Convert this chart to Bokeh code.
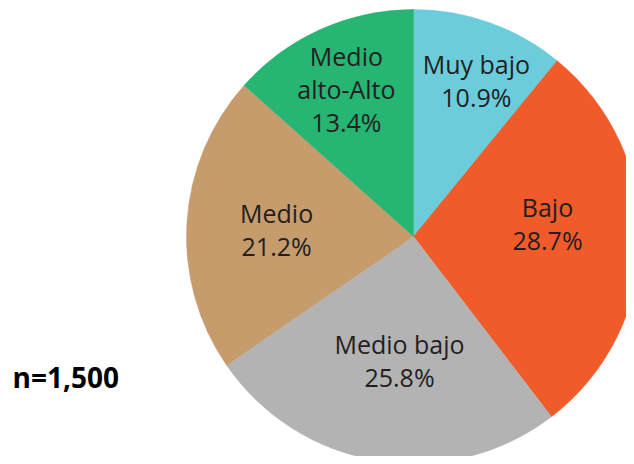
import math
from bokeh.plotting import figure
from bokeh.models import ColumnDataSource, Range1d
from bokeh.core.properties import value
from bokeh.embed import file_html
from bokeh.resources import INLINE

categories = ["Muy bajo", "Bajo", "Medio bajo", "Medio", "Medio alto-Alto"]
shares = [10.9, 28.7, 25.8, 21.2, 13.4]
label_lines = [["Muy bajo", "10.9%"], ["Bajo", "28.7%"], ["Medio bajo", "25.8%"],
               ["Medio", "21.2%"], ["Medio", "alto-Alto", "13.4%"]]
colors = ["#6BCCDC", "#F15A29", "#B3B3B3", "#C69C6D", "#26B573"]
sample_note = "n=1,500"

# layout (pixel-like data units)
W, H = 626, 456
cx, cy, R = 413, 220, 227
label_r = [167, 134.5, 125.6, 137, 161]
label_dang = [-2.5, 5.9, 2.6, 1.1, 0.5]   # degrees nudge from wedge mid-angle
line_gap = 33.4
font_px = 25
cap = 0.714 * font_px
baseline_fix = -10  # screen px correction for alphabetic baseline rendering

total = sum(shares)
starts, ends, mids = [], [], []
acc = 0.0
for s in shares:
    a0 = math.pi / 2 - 2 * math.pi * acc / total
    acc += s
    a1 = math.pi / 2 - 2 * math.pi * acc / total
    starts.append(a0); ends.append(a1); mids.append((a0 + a1) / 2)

src = ColumnDataSource(dict(start=starts, end=ends, color=colors, cat=categories))

p = figure(width=W, height=H, output_backend="svg", toolbar_location=None,
           x_range=Range1d(0, W), y_range=Range1d(0, H), min_border=0,
           outline_line_color=None)
p.axis.visible = False
p.grid.visible = False
p.background_fill_color = "white"
p.border_fill_color = "white"

p.wedge(x=cx, y=cy, radius=R, start_angle="start", end_angle="end", direction="clock",
        fill_color="color", line_color="color", line_width=0.5, source=src)

tx, ty, tt, toff = [], [], [], []
for lines, m, r, da in zip(label_lines, mids, label_r, label_dang):
    a = m + math.radians(da)
    lx = cx + r * math.cos(a)
    ly = cy + r * math.sin(a)
    n = len(lines)
    blockh = (n - 1) * line_gap + cap
    for i, t in enumerate(lines):
        tx.append(lx); ty.append(ly); tt.append(t)
        toff.append(-blockh / 2 + cap + i * line_gap + baseline_fix)

p.text(x=tx, y=ty, text=tt, y_offset=toff, text_align="center", text_baseline="alphabetic",
       text_font=value("Open Sans"), text_font_size=f"{font_px}px", text_color="#231F20")

p.text(x=[12], y=[H - 386.7], text=[sample_note], y_offset=[baseline_fix], text_align="left",
       text_baseline="alphabetic", text_font=value("Open Sans"), text_font_style="bold",
       text_font_size="28px", text_color="#000000")

open("out.html", "w").write(file_html(p, INLINE))
